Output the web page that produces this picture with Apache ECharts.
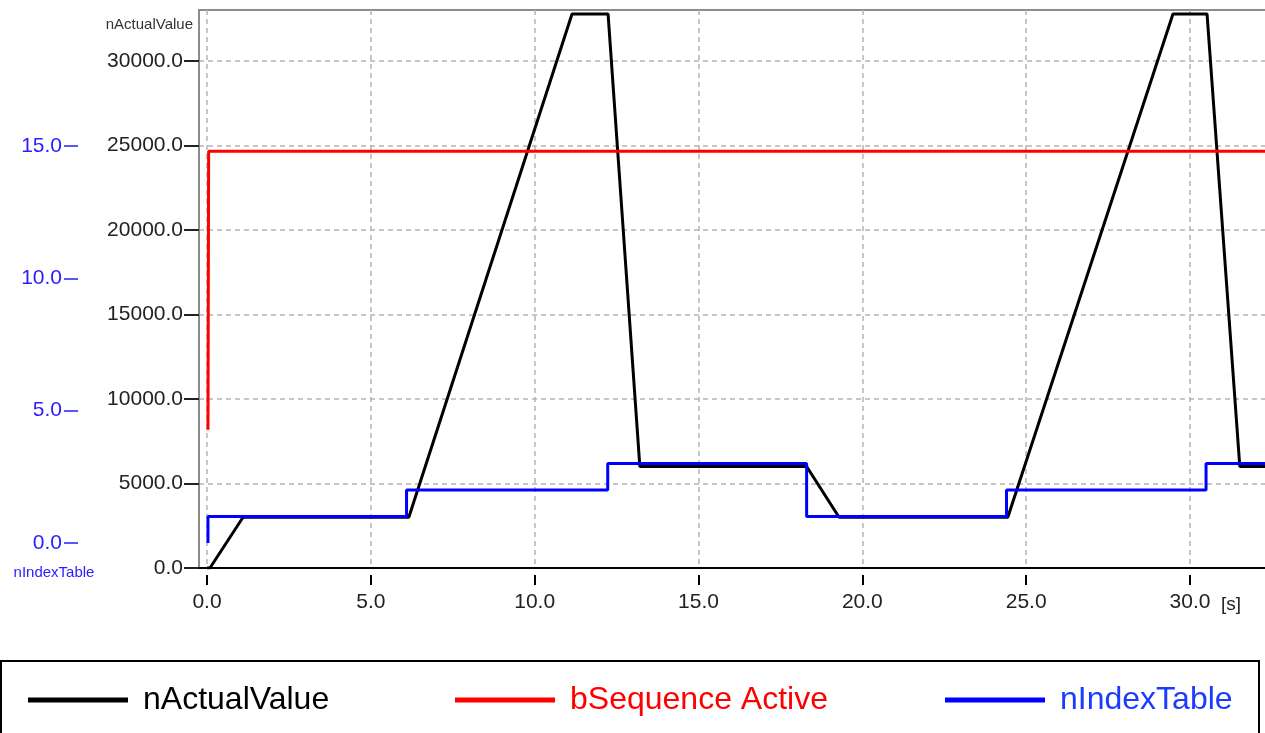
<!DOCTYPE html>
<html>
<head>
<meta charset="utf-8">
<script src="https://cdn.jsdelivr.net/npm/echarts@6/dist/echarts.min.js"></script>
<style>
  html, body { margin: 0; padding: 0; background: #fff; }
  #chart { width: 1265px; height: 733px; }
</style>
</head>
<body>
<div id="chart"></div>
<script>
// nActualValue (left inner axis), time in s
var actualTime = [0, 0.09, 1.1, 6.16, 11.14, 12.24, 13.21, 18.3, 19.29, 24.44, 29.48, 30.52, 31.52, 32.35]
var actualValue = [0, 0, 3000, 3000, 32767, 32767, 6000, 6000, 3000, 3000, 32767, 32767, 6000, 6000]

// bSequence Active
var seqTime = [0.03, 0.05, 32.35]
var seqValue = [8170, 24650, 24650]

// nIndexTable (outer blue axis), step changes
var indexTime = [0.03, 0.03, 6.09, 12.23, 18.3, 24.4, 30.49, 32.35]
var indexValue = [0, 1, 2, 3, 1, 2, 3, 3]

var xTicks = [0, 5, 10, 15, 20, 25, 30]
var actualTicks = [0, 5000, 10000, 15000, 20000, 25000, 30000]
var indexTicks = [0, 5, 10, 15]

function pairs(xs, ys) {
    return xs.map(function (x, i) { return [x, ys[i]] })
}

var FONT = "'Liberation Sans', Arial, sans-serif"
var BLUE = '#0000ff'
var BLUE_TEXT = '#2a1cff'

var chart = echarts.init(document.getElementById('chart'))

chart.setOption({
    animation: false,
    textStyle: { fontFamily: FONT },
    grid: {
        left: 199,
        top: 10,
        right: -2,
        bottom: 165,
        outerBoundsMode: 'none',
        containLabel: false,
        show: true,
        borderColor: '#8c8c8c',
        borderWidth: 2
    },
    xAxis: {
        type: 'value',
        min: -0.244,
        max: 32.35,
        name: '[s]',
        nameLocation: 'end',
        nameGap: -46,
        nameTextStyle: {
            fontSize: 19,
            color: '#222',
            align: 'left',
            verticalAlign: 'top',
            padding: [27, 0, 0, 0]
        },
        axisLine: { show: true, onZero: false, lineStyle: { color: '#000', width: 2 } },
        axisTick: {
            show: true,
            customValues: xTicks,
            length: 17,
            lineStyle: { color: '#000', width: 2, type: [0, 7, 10, 60] }
        },
        axisLabel: {
            customValues: xTicks,
            margin: 24,
            fontSize: 21,
            color: '#222',
            formatter: function (v) { return v.toFixed(1) }
        },
        splitLine: {
            show: true,
            lineStyle: { color: '#b4b4b4', width: 1.5, type: [5, 4] }
        }
    },
    yAxis: [{
        type: 'value',
        min: 0,
        max: 33000,
        position: 'left',
        name: 'nActualValue',
        nameLocation: 'end',
        nameGap: -15,
        nameTextStyle: {
            fontSize: 15,
            color: '#333',
            align: 'right',
            verticalAlign: 'middle',
            padding: [0, 6, 0, 0]
        },
        axisLine: { show: true, onZero: false, lineStyle: { color: '#8c8c8c', width: 2 } },
        axisTick: {
            show: true,
            customValues: actualTicks,
            length: 15,
            lineStyle: { color: '#222', width: 2 }
        },
        axisLabel: {
            customValues: actualTicks,
            margin: 16,
            fontSize: 21,
            color: '#222',
            formatter: function (v) { return v.toFixed(1) }
        },
        splitLine: {
            show: true,
            lineStyle: { color: '#b4b4b4', width: 1.5, type: [5, 4] }
        }
    }, {
        type: 'value',
        min: -0.944,
        max: 20.14,
        position: 'left',
        offset: 121,
        name: 'nIndexTable',
        nameLocation: 'start',
        nameGap: 5,
        nameTextStyle: {
            fontSize: 15,
            color: BLUE_TEXT,
            align: 'center',
            verticalAlign: 'middle',
            padding: [0, 48, 0, 0]
        },
        axisLine: { show: false, onZero: false },
        axisTick: {
            show: true,
            customValues: indexTicks,
            length: 14,
            lineStyle: { color: BLUE_TEXT, width: 1.5 }
        },
        axisLabel: {
            customValues: indexTicks,
            margin: 16,
            fontSize: 21,
            color: BLUE_TEXT,
            formatter: function (v) { return v.toFixed(1) }
        },
        splitLine: { show: false }
    }],
    legend: [{
        data: ['nActualValue'],
        left: 28,
        top: 684,
        padding: 0,
        icon: 'rect',
        itemWidth: 100,
        itemHeight: 5,
        textStyle: { fontSize: 32, color: '#000', padding: [0, 0, 0, 10] }
    }, {
        data: ['bSequence Active'],
        left: 455,
        top: 684,
        padding: 0,
        icon: 'rect',
        itemWidth: 100,
        itemHeight: 5,
        textStyle: { fontSize: 32, color: '#ff0000', padding: [0, 0, 0, 10] }
    }, {
        data: ['nIndexTable'],
        left: 945,
        top: 684,
        padding: 0,
        icon: 'rect',
        itemWidth: 100,
        itemHeight: 5,
        textStyle: { fontSize: 32, color: '#1a3cff', padding: [0, 0, 0, 10] }
    }],
    graphic: [{
        type: 'rect',
        shape: { x: 1, y: 661, width: 1258, height: 120 },
        style: { fill: 'none', stroke: '#000', lineWidth: 2 }
    }],
    series: [{
        name: 'bSequence Active',
        type: 'line',
        yAxisIndex: 0,
        showSymbol: false,
        color: '#ff0000',
        lineStyle: { color: '#ff0000', width: 3 },
        data: pairs(seqTime, seqValue)
    }, {
        name: 'nIndexTable',
        type: 'line',
        yAxisIndex: 1,
        step: 'end',
        showSymbol: false,
        color: BLUE,
        lineStyle: { color: BLUE, width: 3 },
        data: pairs(indexTime, indexValue)
    }, {
        name: 'nActualValue',
        type: 'line',
        yAxisIndex: 0,
        showSymbol: false,
        color: '#000',
        lineStyle: { color: '#000', width: 3 },
        z: 1,
        data: pairs(actualTime, actualValue)
    }]
})
</script>
</body>
</html>
